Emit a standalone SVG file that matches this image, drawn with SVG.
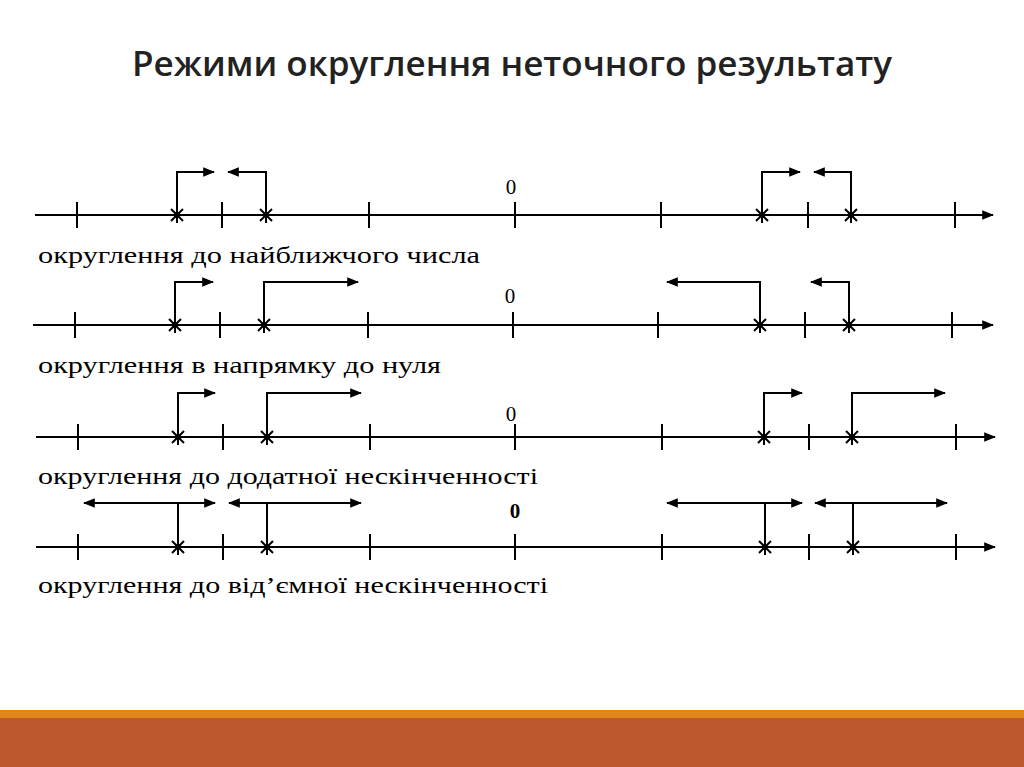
<svg xmlns="http://www.w3.org/2000/svg" width="1024" height="767" viewBox="0 0 1024 767">
<defs>
<marker id="a" viewBox="0 0 10 10" refX="9" refY="5" markerWidth="12" markerHeight="12" markerUnits="userSpaceOnUse" orient="auto-start-reverse"><path d="M0,1L10,5L0,9z" fill="#000"/></marker>
<g id="st"><path d="M-6,-6L6,6M-6,6L6,-6M0,-8V8M-8,0H8" stroke="#000" stroke-width="2"/><circle r="3" fill="#000"/></g>
</defs>
<style>
.ax{stroke:#000;stroke-width:2.2;fill:none}
.tk{stroke:#000;stroke-width:2}
.ar{stroke:#000;stroke-width:2;fill:none}
.lb{font-family:"Liberation Serif",serif;font-size:24px;fill:#000}
.z{font-family:"Liberation Serif",serif;font-size:21px;fill:#000}
</style>
<rect width="1024" height="767" fill="#fff"/>
<text x="512" y="76" text-anchor="middle" font-family="Open Sans, sans-serif" font-weight="600" font-size="34" textLength="760" lengthAdjust="spacingAndGlyphs" fill="#222">Режими округлення неточного результату</text>
<g id="row1">
<path class="ax" d="M35,215H993" marker-end="url(#a)"/>
<path class="tk" d="M77,202v26M222,202v26M369,202v26M515,202v26M661,202v26M808,202v26M955,202v26"/>
<use href="#st" x="177" y="215"/><use href="#st" x="266" y="215"/><use href="#st" x="762" y="215"/><use href="#st" x="851" y="215"/>
<path class="ar" d="M177,215V172H214" marker-end="url(#a)"/><path class="ar" d="M266,215V172H228" marker-end="url(#a)"/>
<path class="ar" d="M762,215V172H800" marker-end="url(#a)"/><path class="ar" d="M851,215V172H814" marker-end="url(#a)"/>
<text class="z" x="511" y="194" text-anchor="middle">0</text>
<text class="lb" x="38" y="263" textLength="442" lengthAdjust="spacingAndGlyphs">округлення до найближчого числа</text>
</g>
<g id="row2">
<path class="ax" d="M33,325H993" marker-end="url(#a)"/>
<path class="tk" d="M75,312v26M220,312v26M368,312v26M513,312v26M658,312v26M805,312v26M952,312v26"/>
<use href="#st" x="175" y="325"/><use href="#st" x="264" y="325"/><use href="#st" x="760" y="325"/><use href="#st" x="849" y="325"/>
<path class="ar" d="M175,325V282H213" marker-end="url(#a)"/><path class="ar" d="M264,325V282H358" marker-end="url(#a)"/>
<path class="ar" d="M760,325V282H667" marker-end="url(#a)"/><path class="ar" d="M849,325V282H811" marker-end="url(#a)"/>
<text class="z" x="510" y="303" text-anchor="middle">0</text>
<text class="lb" x="38" y="373" textLength="403" lengthAdjust="spacingAndGlyphs">округлення в напрямку до нуля</text>
</g>
<g id="row3">
<path class="ax" d="M36,437H995" marker-end="url(#a)"/>
<path class="tk" d="M78,424v26M223,424v26M370,424v26M515,424v26M662,424v26M809,424v26M956,424v26"/>
<use href="#st" x="178" y="437"/><use href="#st" x="267" y="437"/><use href="#st" x="764" y="437"/><use href="#st" x="852" y="437"/>
<path class="ar" d="M178,437V393H215" marker-end="url(#a)"/><path class="ar" d="M267,437V393H361" marker-end="url(#a)"/>
<path class="ar" d="M764,437V393H802" marker-end="url(#a)"/><path class="ar" d="M852,437V393H945" marker-end="url(#a)"/>
<text class="z" x="511" y="421" text-anchor="middle">0</text>
<text class="lb" x="38" y="484" textLength="500" lengthAdjust="spacingAndGlyphs">округлення до додатної нескінченності</text>
</g>
<g id="row4">
<path class="ax" d="M36,547H995" marker-end="url(#a)"/>
<path class="tk" d="M78,534v26M223,534v26M370,534v26M515,534v26M662,534v26M809,534v26M956,534v26"/>
<use href="#st" x="178" y="547"/><use href="#st" x="267" y="547"/><use href="#st" x="765" y="547"/><use href="#st" x="853" y="547"/>
<path class="ar" d="M178,547V503"/><path class="ar" d="M84,503H215" marker-start="url(#a)" marker-end="url(#a)"/>
<path class="ar" d="M267,547V503"/><path class="ar" d="M229,503H361" marker-start="url(#a)" marker-end="url(#a)"/>
<path class="ar" d="M765,547V503"/><path class="ar" d="M667,503H802" marker-start="url(#a)" marker-end="url(#a)"/>
<path class="ar" d="M853,547V503"/><path class="ar" d="M815,503H947" marker-start="url(#a)" marker-end="url(#a)"/>
<text class="z" x="515" y="518" text-anchor="middle" font-size="25" font-weight="bold">0</text>
<text class="lb" x="38" y="593" textLength="510" lengthAdjust="spacingAndGlyphs">округлення до від’ємної нескінченності</text>
</g>
<rect x="0" y="710" width="1024" height="8" fill="#E0861A"/>
<rect x="0" y="718" width="1024" height="49" fill="#BD582C"/>
</svg>
